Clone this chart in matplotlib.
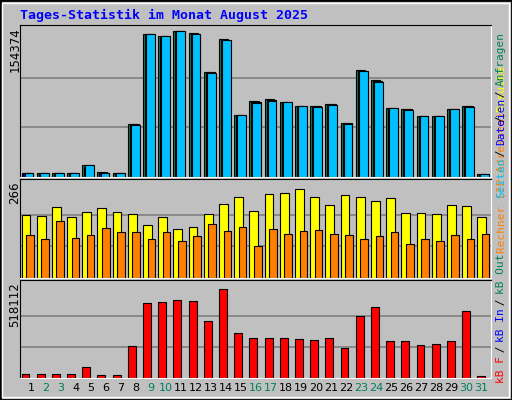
import matplotlib
matplotlib.use("Agg")
import matplotlib.pyplot as plt
from matplotlib.patches import Rectangle

plt.rcParams["font.family"] = ["DejaVu Sans Mono"]

days = list(range(1, 32))
weekend = {2, 3, 9, 10, 16, 17, 23, 24, 30, 31}

anfragen = [3860, 3860, 3860, 3860, 12350, 4790, 3860, 55270, 147890, 146190,
            150980, 148820, 109140, 142640, 64530, 78270, 80890, 77190, 73790, 73790,
            75800, 56190, 110840, 100500, 71630, 70700, 63450, 63450, 70700, 73790, 2780]
dateien = [3860, 3860, 3860, 3860, 10500, 3860, 3860, 54700, 147890, 146190,
           150980, 148300, 108600, 142100, 64530, 77500, 79900, 77190, 73790, 73300,
           75400, 55700, 110300, 99500, 71630, 70200, 63450, 63450, 70700, 73300, 2780]
seiten = [3860, 3860, 3860, 3860, 12350, 3860, 3860, 54200, 147890, 146190,
          150980, 147800, 108100, 141600, 64530, 76900, 78900, 77190, 73790, 72800,
          75100, 55200, 109800, 98500, 71630, 69700, 63450, 63450, 70700, 72800, 2780]
besuche = [175.5, 172.8, 197.2, 170.1, 183.7, 194.5, 183.7, 178.2, 148.4, 170.1,
           137.5, 143.0, 178.2, 208.1, 227.1, 186.4, 235.2, 238.0, 248.8, 227.1,
           202.7, 232.5, 227.1, 216.2, 224.4, 181.0, 181.0, 178.2, 202.7, 200.0, 170.1]
rechner = [121, 108, 159, 113, 119, 140, 129, 129, 108, 129, 102, 116, 151, 132, 143,
           89, 138, 124, 132, 135, 124, 121, 110, 116, 129, 94, 110, 102, 121, 108, 124]
kbytes = [23630, 23630, 23630, 23630, 61810, 18180, 18180, 181790, 421760, 427210,
          438120, 432670, 318140, 499930, 252690, 225420, 225420, 225420, 219970, 214510,
          225420, 165430, 345410, 399950, 209060, 209060, 187250, 192700, 209060, 372680, 12730]
max_top, max_mid, max_bot = 154374, 266, 518112

W, H = 512, 400
fig = plt.figure(figsize=(W / 100, H / 100), dpi=100, facecolor="#C0C0C0")

# outer frame / bevel
fig.patches.append(Rectangle((0, 0), 1, 1, transform=fig.transFigure, fill=False,
                             edgecolor="black", linewidth=2))
fig.patches.append(Rectangle((2 / W, 3 / H), 1 - 5 / W, 1 - 6 / H, transform=fig.transFigure,
                             fill=False, edgecolor="white", linewidth=1))

def px_axes(x0, y0, x1, y1):
    ax = fig.add_axes([x0 / W, 1 - y1 / H, (x1 - x0) / W, (y1 - y0) / H])
    ax.set_facecolor("#C0C0C0")
    ax.set_xlim(0.5, 31.5)
    ax.set_xticks([])
    ax.set_yticks([])
    for side in ("top", "left"):
        ax.spines[side].set_color("black")
    for side in ("bottom", "right"):
        ax.spines[side].set_color("white")
    return ax

bar_kw = dict(edgecolor="black", linewidth=0.8, align="edge")

ax1 = px_axes(20, 25, 491, 177)
ax1.set_ylim(0, max_top * 1.02)
for g in (max_top / 3, max_top * 2 / 3):
    ax1.axhline(g, color="#808080", linewidth=1.2, zorder=0)
ax1.bar([d - 0.4 for d in days], anfragen, width=0.6, color="#00805C", **bar_kw)
ax1.bar([d - 0.27 for d in days], dateien, width=0.6, color="#0000FF", **bar_kw)
ax1.bar([d - 0.2 for d in days], seiten, width=0.58, color="#00C0FF", **bar_kw)

ax2 = px_axes(20, 179, 491, 278)
ax2.set_ylim(0, max_mid * 1.04)
for g in (max_mid / 3, max_mid * 2 / 3):
    ax2.axhline(g, color="#808080", linewidth=1.2, zorder=0)
ax2.bar([d - 0.4 for d in days], besuche, width=0.58, color="#FFFF00", **bar_kw)
ax2.bar([d - 0.1 for d in days], rechner, width=0.5, color="#FF8000", **bar_kw)

ax3 = px_axes(20, 280, 491, 378)
ax3.set_ylim(0, max_bot * 1.06)
for g in (max_bot / 3, max_bot * 2 / 3):
    ax3.axhline(g, color="#808080", linewidth=1.2, zorder=0)
ax3.bar([d - 0.4 for d in days], kbytes, width=0.52, color="#FF0000", **bar_kw)

for d in days:
    fig.text((23.5 + (d - 0.5) * 15) / W, 1 - 388 / H, str(d), ha="center", va="center",
             fontsize=8, color="#00805C" if d in weekend else "black",
             family="DejaVu Sans")

fig.text(20 / W, 1 - 15 / H, "Tages-Statistik im Monat August 2025", color="#0000FF",
         fontsize=9.5, fontweight="bold", va="center", ha="left")

for y_top, label in ((27, str(max_top)), (181, str(max_mid)), (282, str(max_bot))):
    fig.text(15 / W, 1 - y_top / H, label, rotation=90, ha="center", va="top",
             fontsize=8.5, family="DejaVu Sans")

# the right-hand legend strings overlap in the original too
def vertical_parts(x, y_bottom, parts):
    y = y_bottom
    for txt, col in parts:
        fig.text(x / W, 1 - y / H, txt, rotation=90, ha="center", va="bottom",
                 color=col, fontsize=8)
        y -= len(txt) * 5.9

vertical_parts(501, 383, [("kB F", "#FF0000"), (" / ", "black"), ("kB In", "#0000FF"),
                          (" / ", "black"), ("kB Out", "#00805C"), (" ", "black"),
                          ("Rechner (IP-Adressen)", "#FF8000"), (" / ", "black"),
                          ("Besuche", "#FFFF00")])
vertical_parts(501, 198, [("Seiten", "#00C0FF"), (" / ", "black"), ("Dateien", "#0000FF"),
                          (" / ", "black"), ("Anfragen", "#00805C")])

fig.savefig("out.png", dpi=100, facecolor=fig.get_facecolor())
